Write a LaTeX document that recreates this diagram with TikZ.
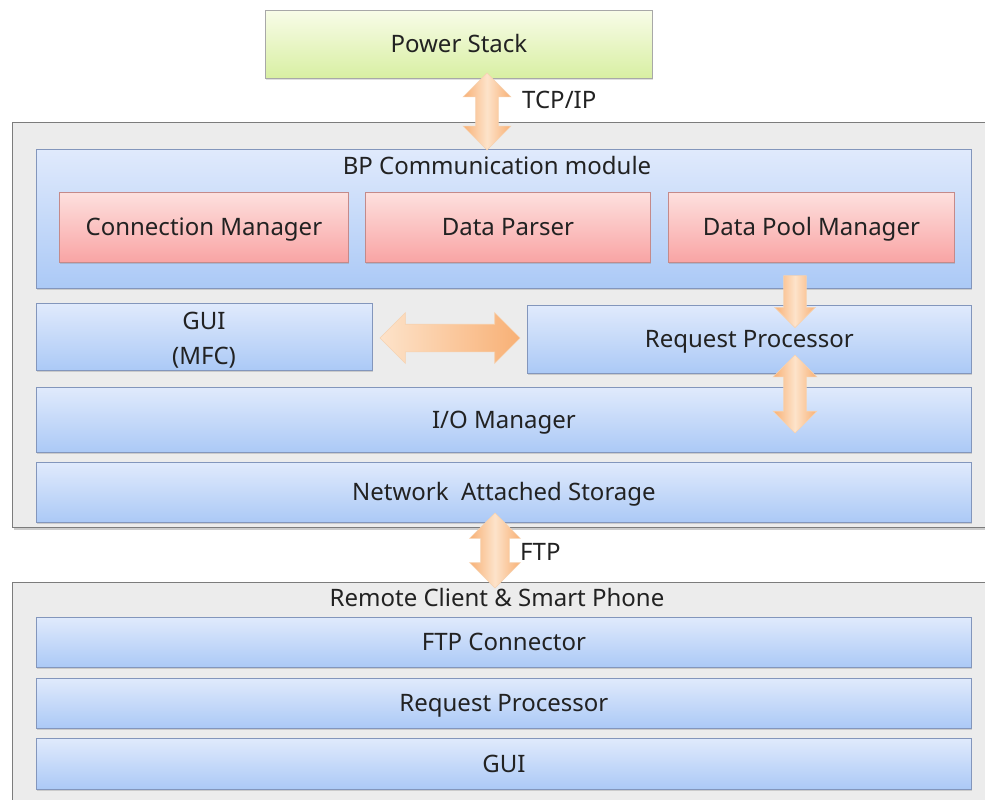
\documentclass[tikz,border=0pt]{standalone}
\usepackage{fontspec}
\setmainfont{Noto Sans}
\usetikzlibrary{shapes.arrows,shadows}
\definecolor{txt}{HTML}{222222}
\definecolor{outerfill}{HTML}{ECECEC}
\definecolor{outerline}{HTML}{7C7C7C}
\definecolor{bluetop}{HTML}{E0EAFC}
\definecolor{bluebot}{HTML}{ABC9F6}
\definecolor{blueline}{HTML}{8396BC}
\definecolor{redtop}{HTML}{FDE0DE}
\definecolor{redbot}{HTML}{F9A4A4}
\definecolor{redline}{HTML}{C48A8A}
\definecolor{greentop}{HTML}{F8FCE8}
\definecolor{greenbot}{HTML}{D8EFA2}
\definecolor{greenline}{HTML}{A8A8A8}
\definecolor{arrlight}{HTML}{FDE3CA}
\definecolor{arrdark}{HTML}{F8B075}
\definecolor{arrline}{HTML}{F6D2B0}
\begin{document}
\begin{tikzpicture}[x=1pt,y=-1pt,
  every node/.style={font=\fontsize{24}{34}\selectfont, text=txt},
  lbl/.style={text height=19pt, text depth=2pt},
  outerbox/.style={draw=outerline, line width=1.2pt, fill=outerfill, inner sep=0pt, anchor=north west,
    drop shadow={shadow xshift=1pt, shadow yshift=-2.5pt, opacity=0.4}},
  bluebox/.style={draw=blueline, line width=0.8pt, top color=bluetop, bottom color=bluebot, inner sep=0pt, anchor=north west,
    drop shadow={shadow xshift=1pt, shadow yshift=-1.5pt, opacity=0.3}},
  redbox/.style={draw=redline, line width=0.8pt, top color=redtop, bottom color=redbot, inner sep=0pt, anchor=north west, lbl,
    drop shadow={shadow xshift=1pt, shadow yshift=-1.5pt, opacity=0.3}},
  greenbox/.style={draw=greenline, line width=0.8pt, top color=greentop, bottom color=greenbot, inner sep=0pt, anchor=north west, lbl,
    drop shadow={shadow xshift=1pt, shadow yshift=-1.5pt, opacity=0.25}},
  vblock/.style={draw=arrline, line width=0.6pt, left color=arrdark, right color=arrdark, middle color=arrlight,
    inner ysep=0pt, shape border rotate=90},
  hblock/.style={draw=arrline, line width=0.6pt, left color=arrlight, right color=arrdark,
    inner xsep=0pt},
  title/.style={inner sep=0pt, lbl}
]
\useasboundingbox (0,0) rectangle (985,800);

% Power stack
\node[greenbox, minimum width=387pt, minimum height=68pt] (ps) at (265,10) {Power Stack};

% main system box
\node[outerbox, minimum width=990pt, minimum height=405pt] (main) at (12,122) {};

% BP communication module
\node[bluebox, minimum width=935pt, minimum height=139pt] (bp) at (36,149) {};
\node[title] (bpt) at (497,166) {BP Communication module};
\node[redbox, minimum width=289pt, minimum height=70pt] (cm) at (59,192) {Connection Manager};
\node[redbox, minimum width=285pt, minimum height=70pt] (dp) at (365,192) {Data Parser};
\node[redbox, minimum width=286pt, minimum height=70pt] (dpm) at (668,192) {Data Pool Manager};

% middle row
\node[bluebox, minimum width=336pt, minimum height=67pt] (gui) at (36,303) {};
\node[inner sep=0pt, align=center, font=\fontsize{24}{35}\selectfont] (guit) at (204,340) {GUI\\(MFC)};
\node[bluebox, lbl, minimum width=444pt, minimum height=68pt] (rp) at (527,305) {Request Processor};
\node[bluebox, lbl, minimum width=935pt, minimum height=65pt] (io) at (36,387) {I/O Manager};
\node[bluebox, lbl, minimum width=935pt, minimum height=60pt] (nas) at (36,462) {Network\ \ Attached Storage};

% lower client box
\node[outerbox, minimum width=990pt, minimum height=240pt] (low) at (12,582) {};
\node[title] (lowt) at (497,598) {Remote Client \& Smart Phone};
\node[bluebox, lbl, minimum width=935pt, minimum height=50pt] (ftpc) at (36,617) {FTP Connector};
\node[bluebox, lbl, minimum width=935pt, minimum height=50pt] (rp2) at (36,678) {Request Processor};
\node[bluebox, lbl, minimum width=935pt, minimum height=51pt] (gui2) at (36,738) {GUI};

% block arrows
\node[vblock, double arrow, inner xsep=11pt, minimum width=47pt, minimum height=77pt,
  double arrow head extend=12.5pt] (tcp) at (487,111.5) {};
\node[title, anchor=west] (tcpl) at (522,100) {TCP/IP};

\node[hblock, double arrow, inner ysep=13.5pt, minimum width=50pt, minimum height=140pt,
  double arrow head extend=11.5pt] (guirp) at (450,338) {};

\node[vblock, single arrow, shape border rotate=270, inner xsep=11pt, minimum width=40pt, minimum height=52pt,
  single arrow head extend=9pt] (dpmrp) at (795,296) {};

\node[vblock, double arrow, inner xsep=11pt, minimum width=43pt, minimum height=78pt,
  double arrow head extend=10.5pt] (rpio) at (795,394) {};

\node[vblock, double arrow, inner xsep=14pt, minimum width=50pt, minimum height=75pt,
  double arrow head extend=11pt] (ftp) at (495,550.5) {};
\node[title, anchor=west] (ftpl) at (520,552) {FTP};
\end{tikzpicture}
\end{document}
